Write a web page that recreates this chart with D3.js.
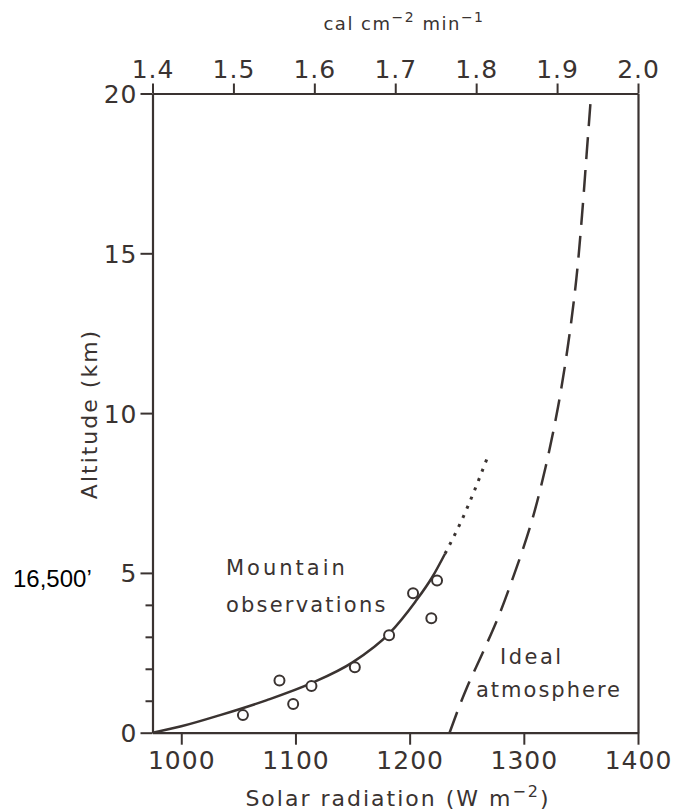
<!DOCTYPE html>
<html><head><meta charset="utf-8">
<script src="https://cdn.jsdelivr.net/npm/d3@7"></script>
<style>
body{margin:0;background:#fff;}
text{font-family:"DejaVu Sans",sans-serif;fill:#3a3331;}
</style></head>
<body>
<svg id="c" width="675" height="812"></svg>
<script>
// ---- data ----
const bottomTicks = [1000, 1100, 1200, 1300, 1400];
const topTicks = [1.4, 1.5, 1.6, 1.7, 1.8, 1.9, 2.0];
const leftTicks = [0, 5, 10, 15, 20];
const leftMinor = [1, 2, 3, 4];
// mountain observations (W m-2, km)
const obsW =   [1054, 1086, 1098, 1114, 1152, 1182, 1203, 1224, 1219];
const obsAlt = [0.55, 1.63, 0.90, 1.46, 2.05, 3.05, 4.36, 4.76, 3.58];
// fitted curve (solid)
const fitW =   [975, 1000, 1034, 1075, 1114, 1150, 1182, 1205, 1220, 1231];
const fitAlt = [0, 0.2, 0.55, 1.02, 1.55, 2.2, 3.1, 4.1, 4.88, 5.6];
// extrapolation (dotted)
const extW =   [1231, 1245, 1257, 1268];
const extAlt = [5.6, 6.6, 7.6, 8.6];
// ideal atmosphere (dashed)
const idealW =   [1235, 1250, 1264, 1278, 1291, 1306, 1319, 1330, 1339, 1346, 1351, 1355, 1359];
const idealAlt = [0, 1.4, 2.5, 3.65, 4.9, 6.5, 8.3, 10.2, 12.2, 14.2, 16.2, 18.1, 20];

const ink = "#3a3331";
const svg = d3.select("#c");
const L = 152.5, R = 638, T = 93.5, B = 732.7;
const x = d3.scaleLinear().domain([974.8, 1400]).range([L, R]);
const xTop = d3.scaleLinear().domain([1.4, 2.0]).range([L, R]);
const y = d3.scaleLinear().domain([0, 20]).range([B, T]);

function styleAxis(g){
  g.selectAll("path.domain").attr("stroke", ink).attr("stroke-width", 2.2);
  g.selectAll(".tick line").attr("stroke", ink).attr("stroke-width", 2);
  g.selectAll(".tick text").style("font-size","25px").attr("fill", ink).style("letter-spacing","1px");
}
// bottom axis
const gb = svg.append("g").attr("transform", `translate(0,${B})`)
  .call(d3.axisBottom(x).tickValues(bottomTicks).tickFormat(d3.format("d")).tickSize(12).tickPadding(7).tickSizeOuter(0));
styleAxis(gb);
// top axis
const gt = svg.append("g").attr("transform", `translate(0,${T})`)
  .call(d3.axisTop(xTop).tickValues(topTicks).tickFormat(d3.format(".1f")).tickSize(10).tickPadding(6).tickSizeOuter(0));
styleAxis(gt);
// left axis
const gl = svg.append("g").attr("transform", `translate(${L},0)`)
  .call(d3.axisLeft(y).tickValues(leftTicks).tickSize(12).tickPadding(3).tickSizeOuter(0));
styleAxis(gl);
gl.selectAll(".tick text").attr("dy","0.36em");
svg.append("g").attr("transform", `translate(${L},0)`)
  .call(d3.axisLeft(y).tickValues(leftMinor).tickSize(7).tickFormat("").tickSizeOuter(0))
  .call(g => { g.select("path.domain").remove(); g.selectAll(".tick line").attr("stroke", ink).attr("stroke-width", 2); });
// right axis
svg.append("g").attr("transform", `translate(${R},0)`)
  .call(d3.axisRight(y).tickValues([]).tickSizeOuter(0))
  .call(g => g.select("path.domain").attr("stroke", ink).attr("stroke-width", 2.2));

// lines
const zip = (a, b) => a.map((v, i) => [v, b[i]]);
const lineX = d3.line().x(d => x(d[0])).y(d => y(d[1])).curve(d3.curveMonotoneX);
const lineY = d3.line().x(d => x(d[0])).y(d => y(d[1])).curve(d3.curveMonotoneY);
svg.append("path").datum(zip(fitW, fitAlt)).attr("d", lineX)
  .attr("fill","none").attr("stroke", ink).attr("stroke-width", 2.5);
svg.append("path").datum(zip(extW, extAlt)).attr("d", lineY)
  .attr("fill","none").attr("stroke", ink).attr("stroke-width", 3)
  .attr("stroke-dasharray","3,7");
svg.append("path").datum(zip(idealW, idealAlt)).attr("d", lineY)
  .attr("fill","none").attr("stroke", ink).attr("stroke-width", 2.5)
  .attr("stroke-dasharray","22,11");
// observations
svg.append("g").selectAll("circle").data(zip(obsW, obsAlt)).join("circle")
  .attr("cx", d => x(d[0])).attr("cy", d => y(d[1])).attr("r", 5)
  .attr("fill","#fff").attr("stroke", ink).attr("stroke-width", 2);

// labels
function lab(t, xx, yy, size, ls){
  return svg.append("text").attr("x", xx).attr("y", yy)
    .style("font-size", size+"px").style("letter-spacing",(ls||2.5)+"px").text(t);
}
lab("Mountain", 226, 575, 21, 3);
lab("observations", 226, 612, 21, 2.2);
lab("Ideal", 500, 664, 21, 2.5);
lab("atmosphere", 476, 697, 21, 2);

// axis titles
const xt = svg.append("text").attr("x", 398).attr("y", 806).attr("text-anchor","middle")
  .style("font-size","22px").style("letter-spacing","2px");
xt.append("tspan").text("Solar radiation (W m");
xt.append("tspan").attr("dy",-9).style("font-size","16px").text("−2");
xt.append("tspan").attr("dy",9).text(")");
const tt = svg.append("text").attr("x", 404).attr("y", 30).attr("text-anchor","middle")
  .style("font-size","18px").style("letter-spacing","1.5px");
tt.append("tspan").text("cal cm");
tt.append("tspan").attr("dy",-8).style("font-size","14px").text("−2");
tt.append("tspan").attr("dy",8).text(" min");
tt.append("tspan").attr("dy",-8).style("font-size","14px").text("−1");
svg.append("text").attr("transform","translate(97,414) rotate(-90)").attr("text-anchor","middle")
  .style("font-size","22px").style("letter-spacing","2px").text("Altitude (km)");
svg.append("text").attr("x", 13).attr("y", 587).style("font-family","Liberation Sans, Arial, sans-serif")
  .style("font-size","24px").style("fill","#000").text("16,500’");
</script>
</body></html>
